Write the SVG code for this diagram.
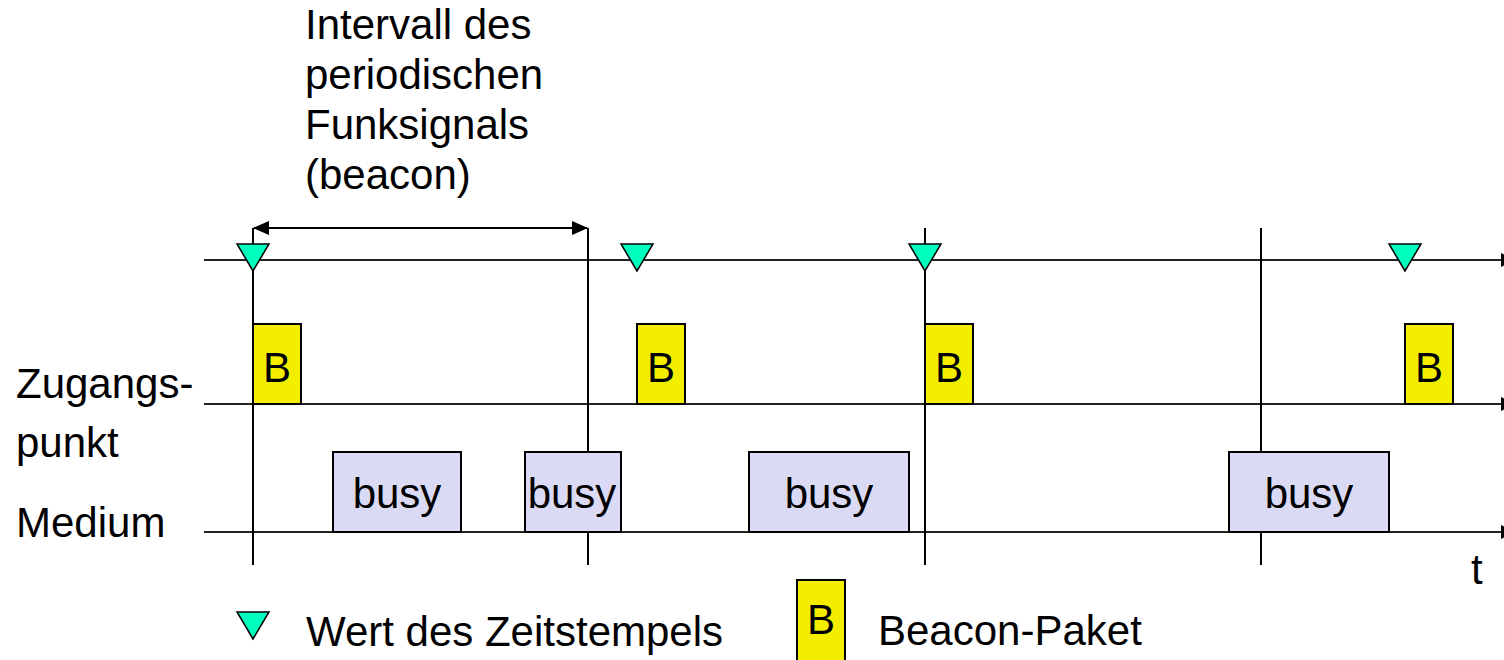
<svg xmlns="http://www.w3.org/2000/svg" width="1504" height="660" viewBox="0 0 1504 660">
  <style>
    text { font-family: "Liberation Sans", Arial, sans-serif; font-size: 42px; fill: #000; }
    .axis { stroke: #222; stroke-width: 2; fill: none; }
    .tick { stroke: #000; stroke-width: 2; fill: none; }
    .ts { fill: #00ffbf; stroke: #000; stroke-width: 1.5; stroke-linejoin: miter; }
    .beacon { fill: #f3ee00; stroke: #000; stroke-width: 2; }
    .busy { fill: #dadaf4; stroke: #000; stroke-width: 2; }
    .mid { text-anchor: middle; }
  </style>
  <defs>
    <marker id="dimHead" viewBox="0 0 16 14" refX="15" refY="7" markerWidth="16" markerHeight="14" markerUnits="userSpaceOnUse" orient="auto-start-reverse">
      <path d="M0,0 L16,7 L0,14 Z" fill="#000"/>
    </marker>
    <polygon id="tsMark" class="ts" points="-16,0 16,0 0,27"/>
  </defs>

  <!-- title of the beacon interval -->
  <g id="interval-label">
    <text x="305" y="39">Intervall des</text>
    <text x="305" y="89">periodischen</text>
    <text x="305" y="139">Funksignals</text>
    <text x="305" y="189">(beacon)</text>
  </g>

  <!-- row labels -->
  <g id="row-labels">
    <text x="16" y="398">Zugangs-</text>
    <text x="16" y="457">punkt</text>
    <text x="16" y="537">Medium</text>
    <text x="1471" y="584">t</text>
  </g>

  <!-- time axes, period markers and interval dimension -->
  <g id="connectors">
    <line class="axis" x1="204" y1="260" x2="1504" y2="260"/>
    <line class="axis" x1="204" y1="404" x2="1504" y2="404"/>
    <line class="axis" x1="204" y1="532" x2="1504" y2="532"/>
    <polygon points="1501,253 1501,267 1515,260" fill="#000"/>
    <polygon points="1501,397 1501,411 1515,404" fill="#000"/>
    <polygon points="1501,525 1501,539 1515,532" fill="#000"/>
    <line class="tick" x1="253" y1="228" x2="253" y2="565"/>
    <line class="tick" x1="588" y1="228" x2="588" y2="565"/>
    <line class="tick" x1="925" y1="228" x2="925" y2="565"/>
    <line class="tick" x1="1261" y1="228" x2="1261" y2="565"/>
    <line class="tick" x1="254" y1="228" x2="587" y2="228" marker-start="url(#dimHead)" marker-end="url(#dimHead)"/>
  </g>

  <!-- timestamp values -->
  <g id="timestamps">
    <use href="#tsMark" x="253" y="244"/>
    <use href="#tsMark" x="637" y="244"/>
    <use href="#tsMark" x="925" y="244"/>
    <use href="#tsMark" x="1405" y="244"/>
  </g>

  <!-- beacon packets -->
  <g id="beacon-1"><rect class="beacon" x="253" y="324" width="48" height="80"/><text class="mid" x="277" y="382">B</text></g>
  <g id="beacon-2"><rect class="beacon" x="637" y="324" width="48" height="80"/><text class="mid" x="661" y="382">B</text></g>
  <g id="beacon-3"><rect class="beacon" x="925" y="324" width="48" height="80"/><text class="mid" x="949" y="382">B</text></g>
  <g id="beacon-4"><rect class="beacon" x="1405" y="324" width="48" height="80"/><text class="mid" x="1429" y="382">B</text></g>

  <!-- medium busy periods -->
  <g id="busy-1"><rect class="busy" x="333" y="452" width="128" height="80"/><text class="mid" x="397" y="508">busy</text></g>
  <g id="busy-2"><rect class="busy" x="525" y="452" width="96" height="80"/><text class="mid" x="572" y="508">busy</text></g>
  <g id="busy-3"><rect class="busy" x="749" y="452" width="160" height="80"/><text class="mid" x="829" y="508">busy</text></g>
  <g id="busy-4"><rect class="busy" x="1229" y="452" width="160" height="80"/><text class="mid" x="1309" y="508">busy</text></g>

  <!-- legend -->
  <g id="legend-timestamp">
    <use href="#tsMark" x="253" y="612"/>
    <text x="306" y="646">Wert des Zeitstempels</text>
  </g>
  <g id="legend-beacon">
    <rect class="beacon" x="797" y="580" width="48" height="82"/>
    <text class="mid" x="821" y="634">B</text>
    <text x="878" y="645">Beacon-Paket</text>
  </g>
</svg>
